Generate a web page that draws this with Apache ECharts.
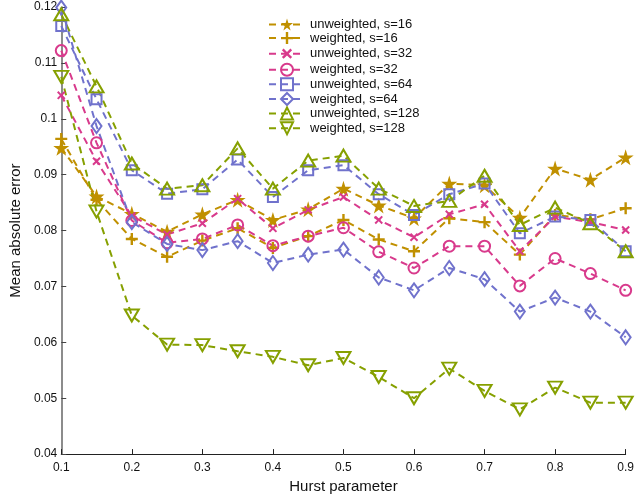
<!DOCTYPE html>
<html>
<head>
<meta charset="utf-8">
<script src="https://cdn.jsdelivr.net/npm/echarts@6/dist/echarts.min.js"></script>
<style>
  html, body { margin: 0; padding: 0; background: #fff; }
  #chart { width: 637px; height: 499px; }
</style>
</head>
<body>
<div id="chart"></div>
<script>
const hurst = [0.1, 0.15, 0.2, 0.25, 0.3, 0.35, 0.4, 0.45, 0.5, 0.55, 0.6, 0.65, 0.7, 0.75, 0.8, 0.85, 0.9];

const unweighted16 = [0.0948, 0.0861, 0.0830, 0.0798, 0.0829, 0.0855, 0.0819, 0.0838, 0.0875, 0.0845, 0.0822, 0.0884, 0.0881, 0.0823, 0.0911, 0.0891, 0.0931];
const weighted16 = [0.0964, 0.0855, 0.0785, 0.0753, 0.0782, 0.0804, 0.0769, 0.0790, 0.0819, 0.0784, 0.0763, 0.0822, 0.0815, 0.0757, 0.0828, 0.0820, 0.0840];
const unweighted32 = [0.1042, 0.0924, 0.0826, 0.0793, 0.0813, 0.0857, 0.0804, 0.0837, 0.0860, 0.0819, 0.0788, 0.0829, 0.0847, 0.0763, 0.0825, 0.0815, 0.0801];
const weighted32 = [0.1122, 0.0957, 0.0818, 0.0778, 0.0785, 0.0810, 0.0773, 0.0790, 0.0805, 0.0762, 0.0733, 0.0772, 0.0772, 0.0701, 0.0750, 0.0723, 0.0693];
const unweighted64 = [0.1166, 0.1035, 0.0908, 0.0866, 0.0874, 0.0927, 0.0860, 0.0908, 0.0917, 0.0865, 0.0828, 0.0865, 0.0884, 0.0795, 0.0825, 0.0819, 0.0763];
const weighted64 = [0.1199, 0.0987, 0.0815, 0.0776, 0.0765, 0.0781, 0.0742, 0.0757, 0.0766, 0.0716, 0.0693, 0.0733, 0.0713, 0.0655, 0.0680, 0.0655, 0.0609];
const unweighted128 = [0.1187, 0.1058, 0.0920, 0.0875, 0.0881, 0.0947, 0.0875, 0.0925, 0.0934, 0.0875, 0.0844, 0.0853, 0.0898, 0.0810, 0.0841, 0.0813, 0.0763];
const weighted128 = [0.1075, 0.0834, 0.0648, 0.0596, 0.0595, 0.0584, 0.0574, 0.0559, 0.0572, 0.0538, 0.0500, 0.0553, 0.0513, 0.0480, 0.0519, 0.0492, 0.0492];

const seriesNames = [
  "unweighted, s=16", "weighted, s=16",
  "unweighted, s=32", "weighted, s=32",
  "unweighted, s=64", "weighted, s=64",
  "unweighted, s=128", "weighted, s=128",
];

const GOLD = "#c09000";
const PINK = "#d83a8c";
const BLUE = "#7072cc";
const OLIVE = "#86a000";

const STAR = "path://M50,0 L61,35 L98,35 L68,57 L79,91 L50,70 L21,91 L32,57 L2,35 L39,35 Z";
const PLUS = "path://M40,0H60V40H100V60H60V100H40V60H0V40H40Z";

// marker look per series
const styles = [
  { data: unweighted16, color: GOLD, symbol: STAR, size: 16, filled: true },
  { data: weighted16, color: GOLD, symbol: PLUS, size: 12, filled: true },
  { data: unweighted32, color: PINK, symbol: PLUS, size: 10, filled: true, rotate: 45 },
  { data: weighted32, color: PINK, symbol: "circle", size: 11 },
  { data: unweighted64, color: BLUE, symbol: "rect", size: 10 },
  { data: weighted64, color: BLUE, symbol: "diamond", size: [10, 14] },
  { data: unweighted128, color: OLIVE, symbol: "triangle", size: [14, 12] },
  { data: weighted128, color: OLIVE, symbol: "triangle", size: [14, 12], rotate: 180 },
];

const chart = echarts.init(document.getElementById("chart"), null, { renderer: "canvas" });

const series = styles.map((s, i) => ({
  name: seriesNames[i],
  type: "line",
  data: hurst.map((h, k) => [h, s.data[k]]),
  symbol: s.symbol,
  symbolSize: s.size,
  symbolRotate: s.rotate || 0,
  showAllSymbol: true,
  lineStyle: { color: s.color, width: 2, type: [7, 5] },
  itemStyle: s.filled
    ? { color: s.color, borderWidth: 0 }
    : { color: "transparent", borderColor: s.color, borderWidth: 2 },
  emphasis: { disabled: true },
  animation: false,
}));

const font = "Liberation Sans, Arial, sans-serif";

chart.setOption({
  animation: false,
  textStyle: { fontFamily: font },
  grid: { left: 57, right: 8, top: 7, bottom: 41 },
  legend: {
    orient: "vertical",
    left: 263,
    top: 13,
    itemWidth: 36,
    itemHeight: 15,
    itemGap: 0.6,
    data: seriesNames,
    textStyle: { fontSize: 13, color: "#111", fontFamily: font, padding: [0, 0, 0, 0] },
  },
  xAxis: {
    type: "value",
    min: 0.1,
    max: 0.9,
    interval: 0.1,
    name: "Hurst parameter",
    nameLocation: "middle",
    nameGap: 20,
    nameTextStyle: { fontSize: 15, color: "#111", fontFamily: font },
    axisLine: { lineStyle: { color: "#222", width: 1 } },
    axisTick: { inside: true, length: 5, lineStyle: { color: "#222" } },
    axisLabel: { fontSize: 12, color: "#111", margin: 8, fontFamily: font },
    splitLine: { show: false },
  },
  yAxis: {
    type: "value",
    min: 0.04,
    max: 0.12,
    interval: 0.01,
    name: "Mean absolute error",
    nameLocation: "middle",
    nameGap: 35,
    nameTextStyle: { fontSize: 15, color: "#111", fontFamily: font },
    axisLine: { show: true, lineStyle: { color: "#666", width: 1.5 } },
    axisTick: { show: true, inside: true, length: 5, lineStyle: { color: "#444" } },
    axisLabel: { fontSize: 12, color: "#111", margin: 4, fontFamily: font },
    splitLine: { show: false },
  },
  series,
});
</script>
</body>
</html>
